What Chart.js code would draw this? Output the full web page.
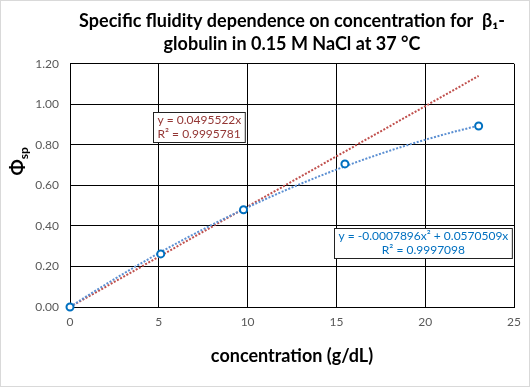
<!DOCTYPE html>
<html>
<head>
<meta charset="utf-8">
<script src="https://cdn.jsdelivr.net/npm/chart.js@4.4.0/dist/chart.umd.min.js"></script>
<style>
  body{margin:0;background:#fff;}
  #wrap{width:530px;height:387px;box-sizing:border-box;border:1px solid #d9d9d9;}
  canvas{display:block;}
</style>
</head>
<body>
<div id="wrap"><canvas id="fluidityChart" width="528" height="385"></canvas></div>
<script>
// measured points
const concentration = [0, 5.11, 9.77, 15.48, 23.01];
const phiSp = [0, 0.262, 0.480, 0.706, 0.893];

const xTicks = [0, 5, 10, 15, 20, 25];
const yTicks = [0, 0.2, 0.4, 0.6, 0.8, 1.0, 1.2];

// trendline coefficients [c0, c1, c2] as shown on the chart
const linearFit = [0, 0.0495522];
const polyFit = [0, 0.0570509, -0.0007896];

const linearLabel = ["y = 0.0495522x", "R² = 0.9995781"];
const polyLabel = ["y = -0.0007896x² + 0.0570509x", "R² = 0.9997098"];

const FONT = "Lato, 'Open Sans', sans-serif";

function evalFit(coefs, x){
    let y = 0;
    for(let i = 0; i < coefs.length; i++){
        y += coefs[i] * Math.pow(x, i);
    }
    return y;
}

function drawFit(chart, coefs, color){
    const ctx = chart.ctx;
    const xs = chart.scales.x;
    const ys = chart.scales.y;
    const xEnd = Math.max(...concentration);
    ctx.save();
    ctx.beginPath();
    ctx.strokeStyle = color;
    ctx.lineWidth = 2;
    ctx.setLineDash([2, 1.6]);
    const steps = 80;
    for(let i = 0; i <= steps; i++){
        const x = xEnd * i / steps;
        const px = xs.getPixelForValue(x);
        const py = ys.getPixelForValue(evalFit(coefs, x));
        if(i === 0) ctx.moveTo(px, py); else ctx.lineTo(px, py);
    }
    ctx.stroke();
    ctx.restore();
}

function drawLabel(chart, lines, xVal, yVal, color, align){
    const ctx = chart.ctx;
    const cx = chart.scales.x.getPixelForValue(xVal);
    const cy = chart.scales.y.getPixelForValue(yVal);
    ctx.save();
    ctx.font = "12px " + FONT;
    const w = Math.max(...lines.map(l => ctx.measureText(l).width)) + 8;
    const h = 30;
    const left = Math.round(cx - w / 2) + 0.5;
    const top = Math.round(cy - h / 2) + 0.5;
    ctx.fillStyle = "#fff";
    ctx.fillRect(left, top, w, h);
    ctx.strokeStyle = "#222";
    ctx.lineWidth = 1;
    ctx.strokeRect(left, top, w, h);
    ctx.fillStyle = color;
    ctx.textBaseline = "middle";
    ctx.textAlign = align;
    const tx = align === "left" ? left + 4 : left + w / 2;
    ctx.fillText(lines[0], tx, top + 8);
    ctx.fillText(lines[1], tx, top + 22);
    ctx.restore();
}

const trendPlugin = {
    id: "trendlines",
    beforeDatasetsDraw(chart){
        drawFit(chart, linearFit, "#C0504D");
        drawFit(chart, polyFit, "#5B8FD2");
    },
    afterDatasetsDraw(chart){
        drawLabel(chart, linearLabel, 7.27, 0.89, "#943634", "left");
        drawLabel(chart, polyLabel, 19.85, 0.315, "#0070C0", "center");
    },
    afterDraw(chart){
        // y axis title with subscript
        const ctx = chart.ctx;
        const cy = (chart.chartArea.top + chart.chartArea.bottom) / 2 - 24;
        ctx.save();
        ctx.translate(23, cy);
        ctx.rotate(-Math.PI / 2);
        ctx.fillStyle = "#000";
        ctx.textBaseline = "alphabetic";
        ctx.font = "bold 19px " + FONT;
        const w1 = ctx.measureText("Φ").width;
        ctx.font = "bold 12px " + FONT;
        const w2 = ctx.measureText("sp").width;
        const start = -(w1 + w2) / 2;
        ctx.font = "bold 19px " + FONT;
        ctx.fillText("Φ", start, 0);
        ctx.font = "bold 12px " + FONT;
        ctx.fillText("sp", start + w1, 4);
        ctx.restore();
    }
};

new Chart(document.getElementById("fluidityChart"), {
    type: "scatter",
    data: {
        datasets: [{
            label: "φsp",
            data: concentration.map((c, i) => ({x: c, y: phiSp[i]})),
            borderColor: "#0070C0",
            backgroundColor: "#fff",
            pointRadius: 3.5,
            pointBorderWidth: 2,
            showLine: false,
            clip: false
        }]
    },
    options: {
        responsive: false,
        animation: false,
        layout: {padding: {top: 1, right: 15, bottom: 0, left: 0}},
        plugins: {
            legend: {display: false},
            tooltip: {enabled: false},
            title: {
                display: true,
                fullSize: false,
                text: ["Specific fluidity dependence on concentration for  β₁-", "globulin in 0.15 M NaCl at 37 °C"],
                color: "#000",
                font: {family: FONT, size: 18, weight: "bold", lineHeight: 1.3},
                padding: {top: 7, bottom: 8}
            }
        },
        scales: {
            x: {
                type: "linear",
                min: 0,
                max: 25,
                afterBuildTicks: s => { s.ticks = xTicks.map(v => ({value: v})); },
                afterFit: s => { s.height = 79; },
                grid: {color: "#000", drawTicks: false},
                border: {color: "#000"},
                ticks: {color: "#595959", padding: 8, font: {family: FONT, size: 12}},
                title: {
                    display: true,
                    text: "concentration (g/dL)",
                    color: "#000",
                    font: {family: FONT, size: 18, weight: "bold", lineHeight: 1.2},
                    padding: {top: 0, bottom: 19}
                }
            },
            y: {
                min: 0,
                max: 1.2,
                afterBuildTicks: s => { s.ticks = yTicks.map(v => ({value: v})); },
                afterFit: s => { s.width = 69; },
                grid: {color: "#000", drawTicks: false},
                border: {color: "#000"},
                ticks: {
                    color: "#595959",
                    padding: 11,
                    font: {family: FONT, size: 12},
                    callback: v => Number(v).toFixed(2)
                }
            }
        }
    },
    plugins: [trendPlugin]
});
</script>
</body>
</html>
